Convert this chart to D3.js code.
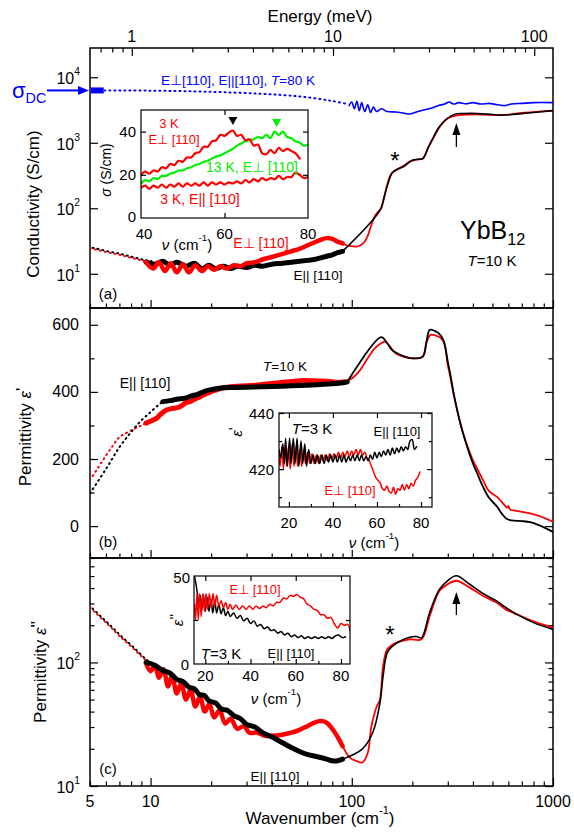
<!DOCTYPE html>
<html>
<head>
<meta charset="utf-8">
<title>YbB12 optical spectra</title>
<style>
  body { margin: 0; background: #fff; }
  text { font-family: "Liberation Sans", Arial, sans-serif; }
</style>
</head>
<body>
<div id="vis"></div>
<script src="https://d3js.org/d3.v7.min.js"></script>
<script>
// ---------- data (wavenumber cm-1, value) ----------
// (a) conductivity S/cm
const sigmaDC = 6300
const dcBar = [5.05, 5.85]
const a80Kdots = [[5.9,6300],[10,6250],[20,6000],[35,5600],[55,5100],[78,4400],[95,3900]]
const a80K = [[97,3700],[100,4200],[103,3300],[106,4300],[109,3100],[112,4100],[116,3000],[120,3800],[124,2900],[128,3500],[133,3000],[140,3300],[150,3000],[165,2950],[180,2850],[195,2750],[210,2950],[230,3200],[250,3400],[270,3700],[290,3900],[305,4200],[320,3900],[340,4100],[370,3950],[400,4100],[440,3900],[480,4000],[530,3800],[580,3700],[620,3900],[700,4000],[800,4100],[1000,4100]]
const aLowDots = [[5,24.5],[6,21.5],[7,19.5],[8,17.5],[9,16],[9.8,15.3]]
const aParThick = [[9.5,15],[10.5,14],[11.5,15.5],[12.5,13.5],[13.5,15],[15,13],[16.5,14.5],[18,12],[19.5,13.5],[21,12],[23,13],[25,12],[27,13],[30,12.5],[33,13.5],[36,13],[40,14],[45,14.5],[50,15],[55,15.5],[60,16],[65,16.5],[70,17.5],[75,18.5],[80,19.5],[85,21],[90,22]]
const aPerpThick = [[9.5,15],[10.3,12],[11,15],[11.8,11],[12.6,14.5],[13.5,10.5],[14.5,14],[15.5,10.5],[16.7,13.5],[18,11],[19.3,13],[20.7,11.5],[22.2,13],[24,12],[26,13.5],[28,13],[30,14.5],[33,15],[36,16.5],[40,18],[45,20],[50,22],[55,24],[60,27],[65,30],[70,33],[75,35],[80,34],[85,31],[90,29]]
const aPerpFit = [[90,29],[95,27],[100,26.5],[105,26],[110,27],[115,30],[120,38],[125,55],[130,75],[135,88],[140,100],[145,150],[150,230],[155,310],[160,360],[170,400],[180,440],[195,520],[210,555],[225,575],[240,850],[255,1200],[270,1650],[285,2050],[300,2350],[320,2550],[340,2650],[380,2700],[450,2700],[520,2650],[600,2700],[700,2850],[850,3000],[1000,3100]]
const aParFit = [[90,22],[138,93],[145,150],[152,250],[158,340],[165,380],[180,430],[200,540],[215,560],[226,575],[240,850],[255,1230],[270,1700],[290,2190],[310,2550],[332,2770],[360,2800],[420,2800],[500,2700],[550,2650],[630,2700],[750,2850],[1000,3100]]

// (a) inset: sigma S/cm vs nu cm-1
const inA3Kperp = [[40,20],[41,21.5],[42,20.5],[43,22],[44,21.5],[45,23.5],[46,23],[47,25],[48,24.5],[49,26.5],[50,26],[51,28],[52,28],[53,30],[54,30.5],[55,33],[56,33],[57,35.5],[58,36],[59,38.5],[60,38],[61,39.5],[62,40.5],[63,38],[64,38.5],[65,36],[66,36.5],[67,33.5],[68,34],[69,30],[70,29.5],[71,31.5],[72,30],[73,32.5],[74,31],[75,32],[76,31],[77,30],[78,27.5]]
const inA13K = [[40,16],[41,17.5],[42,17],[43,18.5],[44,18],[45,19.5],[46,19.5],[47,20.5],[48,21],[49,22],[50,22],[51,23],[52,23.5],[53,24.5],[54,25],[55,26],[56,26.5],[57,27.5],[58,28.5],[59,29],[60,30],[61,31],[62,32],[63,33.5],[64,34.5],[65,35.5],[66,36],[67,36.5],[68,37.5],[69,37],[70,38.5],[71,37],[72,40],[73,38.5],[74,40],[75,37.5],[76,37],[77,35.5],[78,35],[79,33.5],[80,34]]
const inA3Kpar = [[40,14],[41,15],[42,13.5],[43,15],[44,14],[45,15.5],[46,14],[47,15.5],[48,14.5],[49,16],[50,14.5],[51,16],[52,15],[53,16],[54,15],[55,16.5],[56,15],[57,16.5],[58,15.5],[59,16.5],[60,15.5],[61,16.5],[62,16],[63,17],[64,16],[65,17.5],[66,16.5],[67,18],[68,17],[69,18.5],[70,17.5],[71,18.5],[72,18],[73,19.5],[74,18],[75,19],[76,19],[77,21],[78,20],[79,18.5],[80,19]]
const inAmarks = [[62,44.5,'#000'],[72.5,43.5,'#00ee00']]

// (b) permittivity eps'
const bDotsPerp = [[5,137],[5.5,175],[6,210],[6.5,240],[7,265],[8,285],[9,300],[9.5,307]]
const bDotsPar = [[5,98],[6,170],[7,235],[8,280],[9,315],[10,340],[11,362],[11.5,371]]
const bParThick = [[11.5,371],[12.5,374],[13.5,378],[15,382],[16,388],[17,392],[18,398],[19,404],[20.5,408],[23,412],[26,413],[30,414],[35,415],[40,416],[50,418],[60,420],[70,422],[80,424],[90,427],[95,430]]
const bPerpThick = [[9.5,307],[10.2,315],[10.7,321],[11.3,335],[12,346],[12.7,350],[13.3,352],[14,356],[15,368],[15.7,371],[16.5,378],[17.5,385],[18.5,392],[19.5,398],[21,405],[23,412],[26,416],[30,418],[35,421],[40,425],[50,431],[57,434],[65,433],[75,432],[85,428],[92,430]]
const bParFit = [[95,430],[140,563],[150,545],[158,525],[175,510],[200,500],[225,505],[235,550],[244,585],[258,582],[270,575],[285,555],[300,490],[308,456],[320,400],[331,356],[345,310],[357,277],[380,225],[400,187],[425,150],[449,117],[480,85],[527,58],[560,35],[588,22],[620,17],[700,15],[770,12],[850,3],[1000,-17]]
const bPerpFit = [[92,430],[100,440],[110,465],[120,500],[130,530],[140,545],[147,550],[155,535],[165,515],[180,505],[200,500],[225,505],[236,550],[246,570],[262,568],[275,562],[288,545],[300,480],[310,440],[320,395],[331,356],[345,310],[357,278],[380,230],[400,197],[425,165],[449,137],[480,105],[527,87],[570,65],[590,55],[600,60],[610,50],[650,46],[770,38],[900,25],[1000,13]]

// (b) inset: eps' at 3 K
const inBpar = [[15.5,427],[16.3,424],[17.2,429],[18,422],[18.5,431],[19.3,421],[20.3,431],[21,422],[22,431],[22.8,422],[23.7,431],[24.5,421],[25.5,430],[26.3,422],[27.2,429],[28,421],[29,427],[30,422],[31,425],[32,422],[33,425],[34,422],[35,425],[36,422],[37,425],[38,422.5],[39,425],[40,422.5],[41,425],[42,422.5],[43,425],[44,422.5],[45,425],[46,422.5],[47,424.5],[48,423],[49,425],[50,423],[51,425],[52,423],[53,425],[54,423],[55,424.5],[56,423],[57,425],[58,423.5],[59,426],[60,424],[61,426],[62,424.5],[63,426.5],[64,425],[65,427],[66,425],[67,427.5],[68,425.5],[69,427.5],[70,426],[71,428],[72,426.5],[73,428],[74,427],[75,430],[76,430.5],[77,427],[78,428]]
const inBperp = [[15.5,425],[16,421],[16.8,428],[17.5,420],[18.3,429],[19,421],[19.8,428],[20.6,420],[21.5,429],[22.3,421],[23.2,428],[24,421],[25,427],[25.8,421],[26.7,427],[27.5,422],[28.5,426],[29.5,422],[30.5,425.5],[31.5,422],[32.5,425],[33.5,422],[34.5,425],[35.5,423],[36.5,425],[37.5,423],[38.5,425.5],[39.5,423.5],[40.5,425.5],[41.5,424],[42.5,426],[43.5,424],[44.5,426],[45.5,424.5],[46.5,426.5],[47.5,424.5],[48.5,426.5],[49.5,425],[50.5,427],[51.5,425],[52.5,427],[53.5,425],[54.5,426],[55.5,424],[56.5,423],[57.5,421],[58.5,419],[59.5,417],[60.5,416],[61.5,415],[62.5,413],[63.5,412.5],[64.5,414],[65.5,412],[66.5,411.5],[67.5,413.5],[68.5,411],[69.5,413],[70.5,412.5],[71.5,414.5],[72.5,412.5],[73.5,414.5],[74.5,413],[75.5,415],[76.5,414],[77.5,416],[78.5,417],[79.5,419]]

// (c) permittivity eps''
const cDots = [[5,279],[5.5,240],[6,210],[6.5,185],[7,164],[8,135],[9,112],[9.5,104]]
const cParThick = [[9.5,100],[10.5,95],[11.5,86],[12.5,82],[13.5,73],[14.5,70],[15.5,63],[16.5,61],[17.5,55],[18.5,54],[19.5,49],[21,47],[22.5,42],[24,41],[26,37],[28,35],[30,31.5],[33,30],[36,27],[40,25],[45,22.5],[50,20.5],[55,19],[60,18],[65,17.5],[70,17],[75,16.5],[80,16],[85,16],[90,16.5]]
const cPerpThick = [[9.5,98],[10,85],[10.5,95],[11,75],[11.6,88],[12.2,64],[12.8,78],[13.5,56],[14.2,68],[15,50],[15.8,60],[16.7,44],[17.6,53],[18.6,40],[19.6,46],[20.7,36],[22,41],[23.5,32],[25,35],[27,29],[29,30.5],[31,27],[34,27],[37,25.5],[40,25.5],[45,26],[50,27],[55,28.5],[60,30.5],[65,32.5],[70,33.5],[75,32.5],[80,29],[85,25],[90,21]]
const cPerpFit = [[90,21],[95,18],[100,16.5],[105,16],[113,15.5],[120,18.5],[125,30],[133,44],[138,50],[143,93],[150,128],[160,140],[180,150],[195,154],[222,154],[244,238],[273,380],[300,430],[331,458],[384,405],[450,345],[524,305],[580,270],[662,245],[800,215],[1000,191]]
const cParFit = [[90,16.5],[113,20],[127,27],[138,47],[143,77],[150,120],[159,135],[175,150],[194,160],[210,162],[222,158],[244,255],[273,392],[300,460],[331,503],[384,431],[450,360],[524,315],[580,280],[662,245],[800,210],[1000,185]]

// (c) inset: eps'' at 3 K
const inCpar = [[15.2,50],[15.8,46],[16.5,40],[17.2,34],[17.8,39],[18.5,31],[19.2,39],[20,30],[20.8,38],[21.6,30],[22.5,37],[23.3,29],[24.2,36],[25,29],[26,34],[27,28.5],[28,32],[29,27.5],[30,30],[31,27],[32.5,29],[34,26],[35.5,27.5],[37,24.5],[38.5,26],[40,23],[41.5,24.5],[43,21.5],[44.5,22.5],[46,20],[47.5,21],[49,19],[50.5,19.5],[52,17.5],[53.5,18.5],[55,16.5],[56.5,17.5],[58,15.5],[59.5,16.5],[61,15],[62.5,16],[64,14.5],[65.5,15.5],[67,14.5],[68.5,15.5],[70,14.5],[71.5,15.5],[73,14.5],[74.5,15.5],[76,14.5],[77.5,16],[79,16.5],[80.5,15],[82,15.5]]
const inCperp = [[15.2,34],[15.7,25],[16.3,40],[16.9,25],[17.5,40],[18.2,27],[18.9,40],[19.6,30],[20.3,40],[21,31],[21.8,40],[22.6,32],[23.4,40],[24.2,33],[25,39],[26,33],[27,36],[28,32],[29,35],[30,31],[31,34],[32,31],[33.5,33.5],[35,31],[36.5,33],[38,31],[39.5,33],[41,31],[42.5,33],[44,31.5],[45.5,33],[47,32],[48.5,34],[50,33],[51.5,35],[53,35],[54.5,37.5],[56,37],[57.5,39],[59,38.5],[60.5,39.5],[62,38],[63.5,37],[65,34],[66.5,33],[68,31],[69.5,30.5],[71,28],[72.5,28],[74,26],[75.5,26.5],[77,23],[78.5,20.5],[80,23],[81.5,22],[83,22.5],[84,19]]

// tick values
const xMajor = [10, 100, 1000]
const xMinor = [5,6,7,8,9,20,30,40,50,60,70,80,90,200,300,400,500,600,700,800,900]
const xLabels = [5, 10, 100, 1000]
const eMajor = [1, 10, 100]
const eMinor = [0.7,0.8,0.9,2,3,4,5,6,7,8,9,20,30,40,50,60,70,80,90]
const MEV_TO_CM = 8.0655

// ---------- canvas ----------
const RED = '#ff0000', GREEN = '#00ee00', BLUE = '#0000ff'
const svg = d3.select('#vis').append('svg').attr('width', 574).attr('height', 834)
const defs = svg.append('defs')

const x = d3.scaleLog().domain([5, 1000]).range([90, 553])
const ya = d3.scaleLog().domain([3, 28000]).range([308, 48])
const yb = d3.scaleLinear().domain([-95, 650]).range([558, 308])
const yc = d3.scaleLog().domain([10, 700]).range([786, 558])

let clipId = 0
function clip(x0, y0, x1, y1) {
  const id = 'clip' + (clipId++)
  defs.append('clipPath').attr('id', id).append('rect')
    .attr('x', x0).attr('y', y0).attr('width', x1 - x0).attr('height', y1 - y0)
  return svg.append('g').attr('clip-path', `url(#${id})`)
}

function curve(g, data, sx, sy, color, width, dash) {
  g.append('path').datum(data)
    .attr('d', d3.line().x(d => sx(d[0])).y(d => sy(d[1])).curve(d3.curveCatmullRom))
    .attr('fill', 'none').attr('stroke', color).attr('stroke-width', width)
    .attr('stroke-linejoin', 'round')
    .attr('stroke-linecap', 'round')
    .attr('stroke-dasharray', dash || null)
}

// inward ticks through d3 axes
function ticks(axisFn, scale, vals, size, tx, ty) {
  svg.append('g').attr('transform', `translate(${tx},${ty})`)
    .call(axisFn(scale).tickValues(vals).tickSize(-size).tickFormat(''))
    .call(g => g.select('.domain').remove())
    .call(g => g.selectAll('line').attr('stroke', '#000').attr('stroke-width', 1.2))
}

function label(txt, px, py, size, opt = {}) {
  const t = svg.append('text').attr('x', px).attr('y', py)
    .attr('font-size', size).attr('fill', opt.color || '#000')
    .attr('text-anchor', opt.anchor || 'middle')
    .attr('dominant-baseline', 'central')
  if (opt.rotate) t.attr('transform', `rotate(-90,${px},${py})`)
  return t
}
function addParts(t, parts) {
  // parts: [text, kind] kind: '', 'i' italic, 'sup', 'sub', 'p' prime
  const fs0 = +t.attr('font-size')
  let shift = 0
  parts.forEach(([s, k]) => {
    const sp = t.append('tspan').text(s)
    let target = 0
    if (k === 'i') sp.attr('font-style', 'italic')
    if (k === 'sup' || k === 'sub') {
      sp.attr('font-size', fs0 * 0.65)
      target = k === 'sup' ? -0.45 * fs0 : 0.35 * fs0
    }
    if (k === 'p') target = -0.2 * fs0
    sp.attr('dy', target - shift)
    shift = target
  })
}

// ---------- main frames ----------
const panels = [[48, 308], [308, 558], [558, 786]]
panels.forEach(([t, b]) => {
  svg.append('rect').attr('x', 90).attr('y', t).attr('width', 463).attr('height', b - t)
    .attr('fill', 'none').attr('stroke', '#000').attr('stroke-width', 1.5)
  ticks(d3.axisBottom, x, xMajor, 8, 0, b)
  ticks(d3.axisBottom, x, xMinor, 4.5, 0, b)
})

// top energy axis
const xE = v => x(v * MEV_TO_CM)
svg.append('g').attr('transform', 'translate(0,48)')
  .call(d3.axisTop(x).tickValues(eMajor.map(v => v * MEV_TO_CM)).tickSize(-8).tickFormat(''))
  .call(g => g.select('.domain').remove())
  .call(g => g.selectAll('line').attr('stroke-width', 1.2))
svg.append('g').attr('transform', 'translate(0,48)')
  .call(d3.axisTop(x).tickValues(eMinor.map(v => v * MEV_TO_CM)).tickSize(-4.5).tickFormat(''))
  .call(g => g.select('.domain').remove())
  .call(g => g.selectAll('line').attr('stroke-width', 1.2))
eMajor.forEach(v => label(String(v), xE(v), 36, 16).text(v))
label('Energy (meV)', 320, 16, 17).text('Energy (meV)')

// bottom labels
xLabels.forEach(v => label(String(v), x(v), 801, 16).text(v))
addParts(label('', 320, 818, 17), [['Wavenumber (cm', ''], ['-1', 'sup'], [')', '']])

// y ticks panel (a)
const aMajor = [10, 100, 1000, 10000]
ticks(d3.axisLeft, ya, aMajor, 8, 90, 0)
ticks(d3.axisRight, ya, aMajor, 8, 553, 0)
aMajor.forEach((v, i) => addParts(label('', 80, ya(v) + 1, 16, { anchor: 'end' }), [['10', ''], [String(i + 1), 'sup']]))
addParts(label('', 33, 204, 17, { rotate: true }), [['Conductivity (S/cm)', '']])

// y ticks panel (b)
ticks(d3.axisLeft, yb, [0, 200, 400, 600], 8, 90, 0)
ticks(d3.axisRight, yb, [0, 200, 400, 600], 8, 553, 0)
ticks(d3.axisLeft, yb, [100, 300, 500], 4.5, 90, 0)
ticks(d3.axisRight, yb, [100, 300, 500], 4.5, 553, 0)
;[0, 200, 400, 600].forEach(v => label('', 79, yb(v), 16, { anchor: 'end' }).text(v))
addParts(label('', 25, 437, 17, { rotate: true }), [['Permittivity ', ''], ['ε', 'i'], ["'", 'p']])

// y ticks panel (c)
const cMinor = [20, 30, 40, 50, 60, 70, 80, 90, 200, 300, 400, 500, 600, 700]
ticks(d3.axisLeft, yc, [10, 100], 8, 90, 0)
ticks(d3.axisRight, yc, [10, 100], 8, 553, 0)
ticks(d3.axisLeft, yc, cMinor, 4.5, 90, 0)
ticks(d3.axisRight, yc, cMinor, 4.5, 553, 0)
;[10, 100].forEach((v, i) => addParts(label('', 80, yc(v) + 1, 16, { anchor: 'end' }), [['10', ''], [String(i + 1), 'sup']]))
addParts(label('', 40, 672, 17, { rotate: true }), [['Permittivity ', ''], ['ε', 'i'], ["''", 'p']])

// ---------- panel (a) curves ----------
const ga = clip(90, 48, 553, 308)
curve(ga, a80Kdots, x, ya, BLUE, 2, '1,4')
curve(ga, a80K, x, ya, BLUE, 1.6)
ga.append('line').attr('x1', x(dcBar[0])).attr('x2', x(dcBar[1]))
  .attr('y1', ya(sigmaDC)).attr('y2', ya(sigmaDC)).attr('stroke', BLUE).attr('stroke-width', 6)
curve(ga, aLowDots, x, ya, RED, 2, '1,4')
curve(ga, aLowDots.map(d => [d[0] * 1.03, d[1] * 1.02]), x, ya, '#000', 2, '1,4')
curve(ga, aPerpFit, x, ya, RED, 1.8)
curve(ga, aParFit, x, ya, '#000', 1.6)
curve(ga, aParThick, x, ya, '#000', 5)
curve(ga, aPerpThick, x, ya, RED, 4.5)

// sigma DC arrow
svg.append('line').attr('x1', 47).attr('x2', 78).attr('y1', ya(sigmaDC)).attr('y2', ya(sigmaDC))
  .attr('stroke', BLUE).attr('stroke-width', 2)
svg.append('path').attr('d', `M78,${ya(sigmaDC) - 4.5}L89,${ya(sigmaDC)}L78,${ya(sigmaDC) + 4.5}Z`).attr('fill', BLUE)
addParts(label('', 12, 90, 22, { anchor: 'start', color: BLUE }), [['σ', ''], ['DC', 'sub']])

addParts(label('', 238, 80, 13.5, { color: BLUE }), [['E⊥[110], E||[110], ', ''], ['T', 'i'], ['=80 K', '']])
label('', 261, 243, 14, { color: RED }).text('E⊥ [110]')
label('', 318, 275, 13.5).text('E|| [110]')
label('', 395, 160, 24).text('*')
addParts(label('', 460, 230, 25, { anchor: 'start' }), [['YbB', ''], ['12', 'sub']])
addParts(label('', 492, 260, 15), [['T', 'i'], ['=10 K', '']])
label('', 108, 293, 15).text('(a)')
// arrow at 330 cm-1
function upArrow(px, tip, tail) {
  svg.append('line').attr('x1', px).attr('x2', px).attr('y1', tip + 10).attr('y2', tail).attr('stroke', '#000').attr('stroke-width', 1.3)
  svg.append('path').attr('d', `M${px - 4},${tip + 12}L${px},${tip}L${px + 4},${tip + 12}Z`).attr('fill', '#000')
}
upArrow(x(331), 123, 147)

// ---------- inset (a) ----------
const iax = d3.scaleLinear().domain([40, 80]).range([141, 308])
const iay = d3.scaleLinear().domain([0, 50]).range([218, 110])
svg.append('rect').attr('x', 141).attr('y', 110).attr('width', 167).attr('height', 108).attr('fill', '#fff')
const gia = clip(141, 110, 308, 218)
curve(gia, inA3Kpar, iax, iay, RED, 2.2)
curve(gia, inA13K, iax, iay, GREEN, 2.2)
curve(gia, inA3Kperp, iax, iay, RED, 2.2)
inAmarks.forEach(([v, s, c]) => svg.append('path')
  .attr('d', `M${iax(v) - 4.5},${iay(s) - 5}L${iax(v) + 4.5},${iay(s) - 5}L${iax(v)},${iay(s) + 3}Z`).attr('fill', c))
svg.append('rect').attr('x', 141).attr('y', 110).attr('width', 167).attr('height', 108)
  .attr('fill', 'none').attr('stroke', '#000').attr('stroke-width', 1.2)
ticks(d3.axisLeft, iay, [20, 40], 5, 141, 0)
ticks(d3.axisRight, iay, [20, 40], 5, 308, 0)
ticks(d3.axisBottom, iax, [60], 5, 0, 218)
ticks(d3.axisTop, iax, [60], 5, 0, 110)
;[0, 20, 40].forEach(v => label('', 136, iay(v) - (v === 0 ? 2 : 0), 15, { anchor: 'end' }).text(v))
;[40, 60, 80].forEach(v => label('', iax(v) + (v === 40 ? 3 : 0), 233, 15).text(v))
addParts(label('', 187, 244, 15), [['ν', 'i'], [' (cm', ''], ['-1', 'sup'], [')', '']])
addParts(label('', 106, 170, 14, { rotate: true }), [['σ', 'i'], [' (S/cm)', '']])
label('', 169, 123, 13, { color: RED }).text('3 K')
label('', 174, 139, 13, { color: RED }).text('E⊥ [110]')
label('', 252, 167, 14, { color: GREEN }).text('13 K, E⊥ [110]')
label('', 200, 199, 14, { color: RED }).text('3 K, E|| [110]')

// ---------- panel (b) curves ----------
const gb = clip(90, 308, 553, 558)
curve(gb, bDotsPerp, x, yb, RED, 2, '1,4')
curve(gb, bDotsPar, x, yb, '#000', 2, '1,4')
curve(gb, bPerpFit, x, yb, RED, 1.8)
curve(gb, bParFit, x, yb, '#000', 1.8)
curve(gb, bPerpThick, x, yb, RED, 5)
curve(gb, bParThick, x, yb, '#000', 5)
label('', 145, 383, 14).text('E|| [110]')
addParts(label('', 285, 366, 13.5), [['T', 'i'], ['=10 K', '']])
label('', 108, 541, 15).text('(b)')

// ---------- inset (b) ----------
const ibx = d3.scaleLinear().domain([15.5, 85]).range([279, 432])
const iby = d3.scaleLinear().domain([406.5, 440]).range([507, 413])
svg.append('rect').attr('x', 279).attr('y', 413).attr('width', 153).attr('height', 94).attr('fill', '#fff')
const gib = clip(279, 413, 432, 507)
curve(gib, inBperp, ibx, iby, RED, 1.5)
curve(gib, inBpar, ibx, iby, '#000', 1.5)
svg.append('rect').attr('x', 279).attr('y', 413).attr('width', 153).attr('height', 94)
  .attr('fill', 'none').attr('stroke', '#000').attr('stroke-width', 1.2)
ticks(d3.axisLeft, iby, [420, 440], 5, 279, 0)
ticks(d3.axisRight, iby, [420, 440], 5, 432, 0)
ticks(d3.axisLeft, iby, [410, 430], 3, 279, 0)
ticks(d3.axisRight, iby, [410, 430], 3, 432, 0)
ticks(d3.axisBottom, ibx, [20, 40, 60, 80], 5, 0, 507)
ticks(d3.axisTop, ibx, [20, 40, 60, 80], 5, 0, 413)
ticks(d3.axisBottom, ibx, [30, 50, 70], 3, 0, 507)
;[420, 440].forEach(v => label('', 274, iby(v), 15, { anchor: 'end' }).text(v))
;[20, 40, 60, 80].forEach(v => label('', ibx(v), 522, 15).text(v))
addParts(label('', 374, 542, 15), [['ν', 'i'], [' (cm', ''], ['-1', 'sup'], [')', '']])
addParts(label('', 236, 432, 15, { rotate: true }), [['ε', 'i'], ["'", 'p']])
addParts(label('', 312, 428, 15), [['T', 'i'], ['=3 K', '']])
label('', 397, 431, 13).text('E|| [110]')
label('', 350, 490, 13, { color: RED }).text('E⊥ [110]')

// ---------- panel (c) curves ----------
const gc = clip(90, 558, 553, 786)
curve(gc, cDots, x, yc, RED, 2, '1,4')
curve(gc, cDots.map(d => [d[0] * 1.03, d[1] * 0.98]), x, yc, '#000', 2, '1,4')
curve(gc, cPerpFit, x, yc, RED, 1.8)
curve(gc, cParFit, x, yc, '#000', 1.6)
curve(gc, cPerpThick, x, yc, RED, 4.5)
curve(gc, cParThick, x, yc, '#000', 5)
label('', 390, 634, 24).text('*')
upArrow(x(331), 592, 615)
label('', 275, 776, 13.5).text('E|| [110]')
label('', 108, 768, 15).text('(c)')

// ---------- inset (c) ----------
const icx = d3.scaleLinear().domain([15, 84]).range([194, 350])
const icy = d3.scaleLinear().domain([0, 50]).range([664, 576])
svg.append('rect').attr('x', 194).attr('y', 576).attr('width', 156).attr('height', 88).attr('fill', '#fff')
const gic = clip(194, 576, 350, 664)
curve(gic, inCpar, icx, icy, '#000', 1.5)
curve(gic, inCperp, icx, icy, RED, 1.5)
svg.append('rect').attr('x', 194).attr('y', 576).attr('width', 156).attr('height', 88)
  .attr('fill', 'none').attr('stroke', '#000').attr('stroke-width', 1.2)
ticks(d3.axisLeft, icy, [25], 4, 194, 0)
ticks(d3.axisRight, icy, [25], 4, 350, 0)
ticks(d3.axisBottom, icx, [20, 40, 60, 80], 5, 0, 664)
ticks(d3.axisBottom, icx, [30, 50, 70], 3, 0, 664)
ticks(d3.axisTop, icx, [20, 40, 60, 80], 5, 0, 576)
label('', 190, 577, 15, { anchor: 'end' }).text('50')
label('', 189, 664, 15, { anchor: 'end' }).text('0')
;[20, 40, 60, 80].forEach(v => label('', icx(v), 675, 15).text(v))
addParts(label('', 276, 698, 15), [['ν', 'i'], [' (cm', ''], ['-1', 'sup'], [')', '']])
addParts(label('', 177, 620, 15, { rotate: true }), [['ε', 'i'], ["''", 'p']])
label('', 255, 589, 13, { color: RED }).text('E⊥ [110]')
addParts(label('', 221, 653, 15), [['T', 'i'], ['=3 K', '']])
label('', 291, 653, 13).text('E|| [110]')
</script>
</body>
</html>
